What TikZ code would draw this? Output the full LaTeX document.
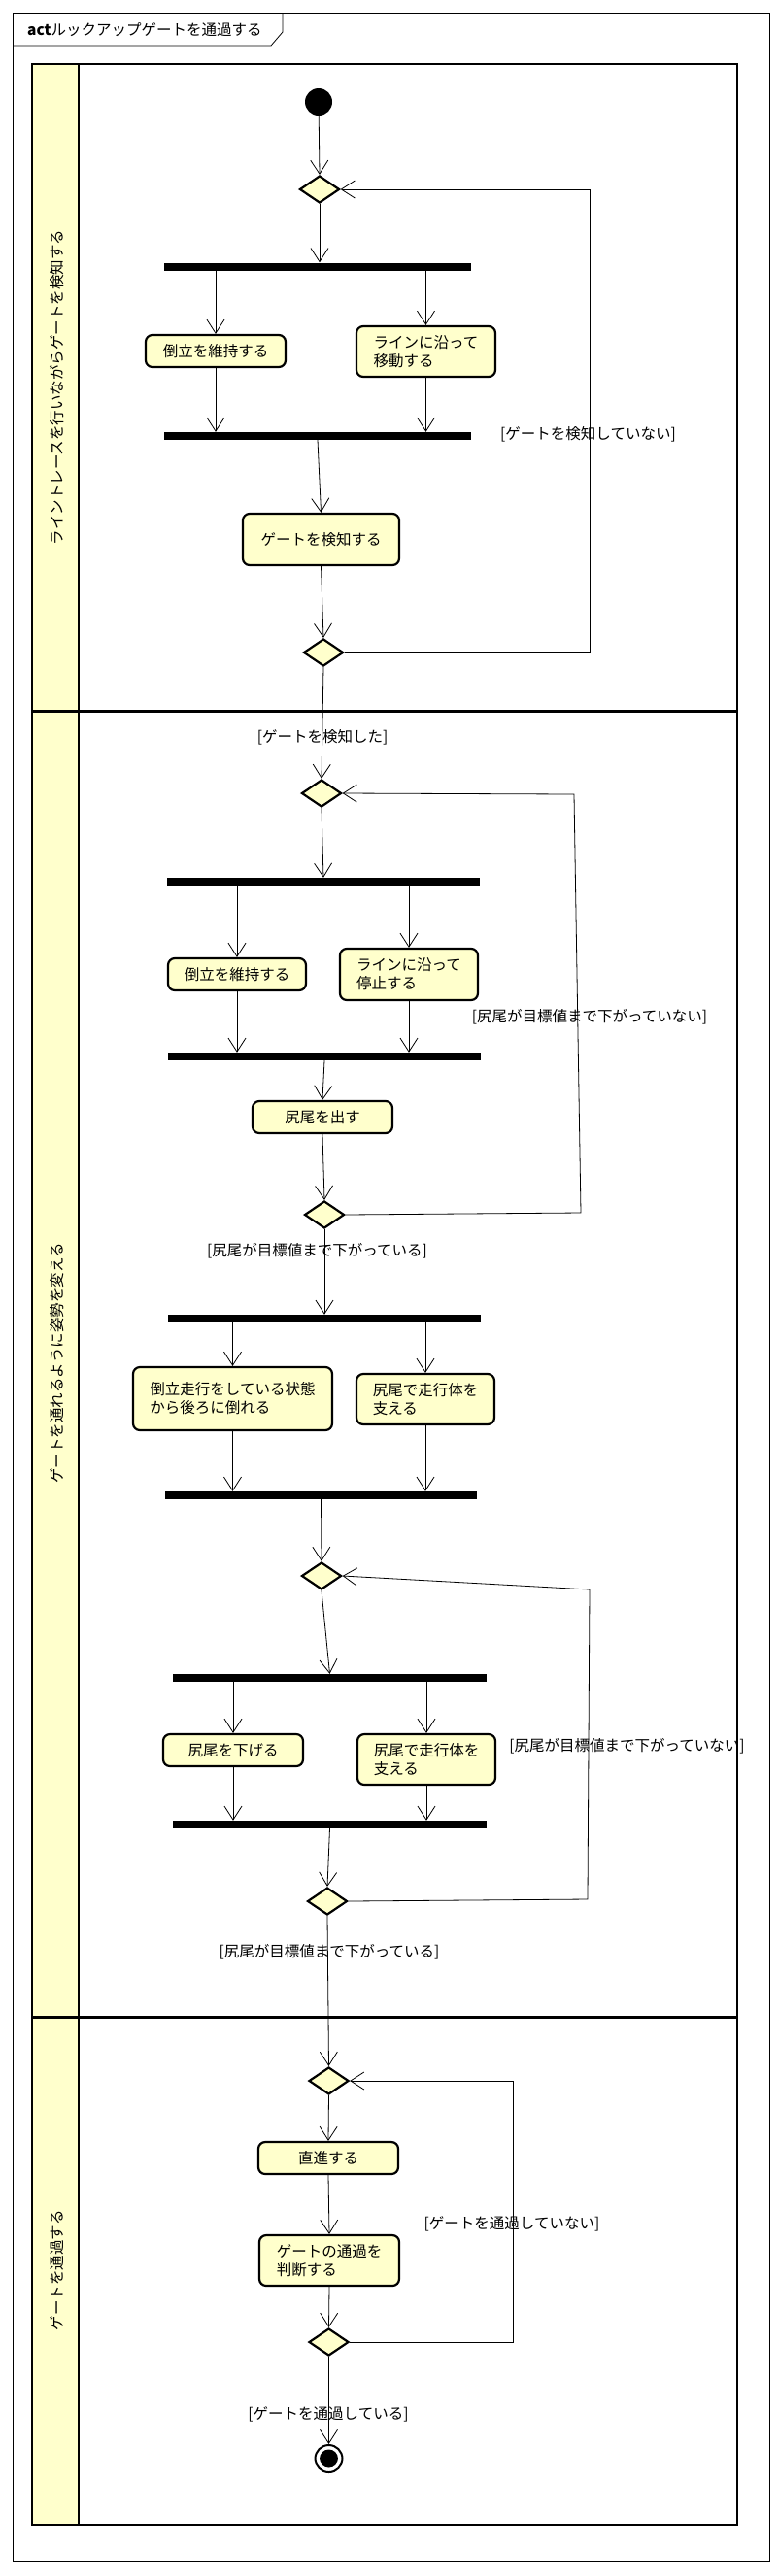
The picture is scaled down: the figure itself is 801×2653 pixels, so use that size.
\documentclass[tikz,border=0pt]{standalone}
\usepackage{fontspec}
\setmainfont{Noto Sans CJK JP}
\usetikzlibrary{arrows.meta,shapes.geometric,calc}
\definecolor{umlyellow}{RGB}{255,255,204}
\begin{document}
\begin{tikzpicture}[x=1pt,y=-1pt,
  every node/.style={font=\fontsize{15.5}{19}\selectfont},
  act/.style={draw, line width=2.2pt, rounded corners=7pt, fill=umlyellow, inner sep=0pt, align=left},
  dec/.style={draw, diamond, line width=2.2pt, fill=umlyellow, inner sep=0pt, minimum width=41pt, minimum height=28pt},
  bar/.style={fill=black, inner sep=0pt, minimum height=8pt},
  arr/.style={line width=0.8pt, -{Straight Barb[length=14pt,width=18pt]}},
  loopline/.style={line width=0.8pt},
  guard/.style={inner sep=0pt},
  lanetext/.style={rotate=90, inner sep=0pt}]
\useasboundingbox (0,0) rectangle (801,2653);
\fill[white] (0,0) rectangle (801,2653);
% outer frame and title
\draw[line width=0.8pt] (13,13) rectangle (792,2638);
\draw[line width=0.8pt] (13,47) -- (279,47) -- (291,33) -- (291,13);
\node[anchor=west, inner sep=0pt] (title) at (28,31) {\textbf{act}ルックアップゲートを通過する};
% swimlanes
\fill[umlyellow] (33,66) rectangle (81,2600);
\draw[line width=2pt] (81,66) -- (81,2600);
\draw[line width=3pt] (33,732) -- (759,732);
\draw[line width=3pt] (33,2077) -- (759,2077);
\draw[line width=2.6pt] (33,66) rectangle (759,2600);
\node[lanetext] (lane1) at (59,399) {ライントレースを行いながらゲートを検知する};
\node[lanetext] (lane2) at (59,1404) {ゲートを通れるように姿勢を変える};
\node[lanetext] (lane3) at (59,2338) {ゲートを通過する};
% nodes
\node[circle, fill=black, minimum size=28pt, inner sep=0pt] (start) at (328,105) {};
\node[dec] (d1) at (329,195) {};
\node[bar, minimum width=316pt] (bar1) at (327,274.5) {};
\node[act, minimum width=144pt, minimum height=33pt] (a1) at (222,361.5) {倒立を維持する};
\node[act, minimum width=143pt, minimum height=52pt] (a2) at (438.5,362) {ラインに沿って\\移動する};
\node[bar, minimum width=316pt] (bar2) at (327,449) {};
\node[act, minimum width=161pt, minimum height=53pt] (a3) at (330.5,555.5) {ゲートを検知する};
\node[dec] (d2) at (333,672) {};
\node[dec] (d3) at (331,817) {};
\node[bar, minimum width=322pt] (bar3) at (333,908) {};
\node[act, minimum width=142pt, minimum height=33pt] (a4) at (244,1003.5) {倒立を維持する};
\node[act, minimum width=142pt, minimum height=53pt] (a5) at (421,1003.5) {ラインに沿って\\停止する};
\node[bar, minimum width=322pt] (bar4) at (334,1088) {};
\node[act, minimum width=144pt, minimum height=33pt] (a6) at (332,1150.5) {尻尾を出す};
\node[dec] (d4) at (334,1251) {};
\node[bar, minimum width=322pt] (bar5) at (334,1358) {};
\node[act, minimum width=205pt, minimum height=65pt] (a7) at (239.5,1440.5) {倒立走行をしている状態\\から後ろに倒れる};
\node[act, minimum width=142pt, minimum height=52pt] (a8) at (438,1441) {尻尾で走行体を\\支える};
\node[bar, minimum width=321pt] (bar6) at (330.5,1540) {};
\node[dec] (d5) at (331,1623) {};
\node[bar, minimum width=323pt] (bar7) at (339.5,1728) {};
\node[act, minimum width=144pt, minimum height=33pt] (a9) at (240,1802.5) {尻尾を下げる};
\node[act, minimum width=142pt, minimum height=52pt] (a10) at (439,1812) {尻尾で走行体を\\支える};
\node[bar, minimum width=323pt] (bar8) at (339.5,1879) {};
\node[dec] (d6) at (337,1958) {};
\node[dec] (d7) at (338.5,2143) {};
\node[act, minimum width=144pt, minimum height=33pt] (a11) at (338,2222.5) {直進する};
\node[act, minimum width=144pt, minimum height=52pt] (a12) at (339,2328) {ゲートの通過を\\判断する};
\node[dec] (d8) at (338.5,2412) {};
\node[circle, draw, line width=2pt, fill=white, minimum size=28pt, inner sep=0pt] (end) at (338.5,2532) {};
\node[circle, fill=black, minimum size=19pt, inner sep=0pt] (endin) at (end.center) {};
% loop corners
\coordinate (c1) at (607,0);
\coordinate (c2a) at (598,1249);
\coordinate (c2b) at (591,818);
\coordinate (c3a) at (605,1956);
\coordinate (c3b) at (607,1637);
\coordinate (c4) at (528,0);
% edges lane 1
\draw[arr] (start) -- (d1.north);
\draw[arr] (d1.south) -- (d1.south |- bar1.north);
\draw[arr] (a1.north |- bar1.south) -- (a1.north);
\draw[arr] (a2.north |- bar1.south) -- (a2.north);
\draw[arr] (a1.south) -- (a1.south |- bar2.north);
\draw[arr] (a2.south) -- (a2.south |- bar2.north);
\draw[arr] (bar2.south) -- (a3.north);
\draw[arr] (a3.south) -- (d2.north);
\draw[loopline, arr] (d2.east) -- (d2.east -| c1) -- (d1.east -| c1) -- (d1.east);
\node[guard] (g1) at (605.5,447) {[ゲートを検知していない]};
% lane 2
\draw[arr] (d2.south) -- (d3.north);
\node[guard, fill=white, fill opacity=0, text opacity=1] (g2) at (332,759) {[ゲートを検知した]};
\draw[arr] (d3.south) -- (bar3.north);
\draw[arr] (a4.north |- bar3.south) -- (a4.north);
\draw[arr] (a5.north |- bar3.south) -- (a5.north);
\draw[arr] (a4.south) -- (a4.south |- bar4.north);
\draw[arr] (a5.south) -- (a5.south |- bar4.north);
\draw[arr] (bar4.south) -- (a6.north);
\draw[arr] (a6.south) -- (d4.north);
\draw[arr] (d4.east) -- (c2a) -- (c2b) -- (d3.east);
\node[guard] (g3) at (607,1047) {[尻尾が目標値まで下がっていない]};
\draw[arr] (d4.south) -- (bar5.north);
\node[guard] (g4) at (326.5,1288) {[尻尾が目標値まで下がっている]};
\draw[arr] (a7.north |- bar5.south) -- (a7.north);
\draw[arr] (a8.north |- bar5.south) -- (a8.north);
\draw[arr] (a7.south) -- (a7.south |- bar6.north);
\draw[arr] (a8.south) -- (a8.south |- bar6.north);
\draw[arr] (bar6.south) -- (d5.north);
\draw[arr] (d5.south) -- (bar7.north);
\draw[arr] (a9.north |- bar7.south) -- (a9.north);
\draw[arr] (a10.north |- bar7.south) -- (a10.north);
\draw[arr] (a9.south) -- (a9.south |- bar8.north);
\draw[arr] (a10.south) -- (a10.south |- bar8.north);
\draw[arr] (bar8.south) -- (d6.north);
\draw[arr] (d6.east) -- (c3a) -- (c3b) -- (d5.east);
\node[guard] (g5) at (645.5,1798) {[尻尾が目標値まで下がっていない]};
% lane 3
\draw[arr] (d6.south) -- (d7.north);
\node[guard] (g6) at (339,2010) {[尻尾が目標値まで下がっている]};
\draw[arr] (d7.south) -- (a11.north);
\draw[arr] (a11.south) -- (a12.north);
\draw[arr] (a12.south) -- (d8.north);
\draw[arr] (d8.east) -- (d8.east -| c4) -- (d7.east -| c4) -- (d7.east);
\node[guard] (g7) at (527,2290) {[ゲートを通過していない]};
\draw[arr] (d8.south) -- (end.north);
\node[guard] (g8) at (338,2486) {[ゲートを通過している]};
\end{tikzpicture}
\end{document}
